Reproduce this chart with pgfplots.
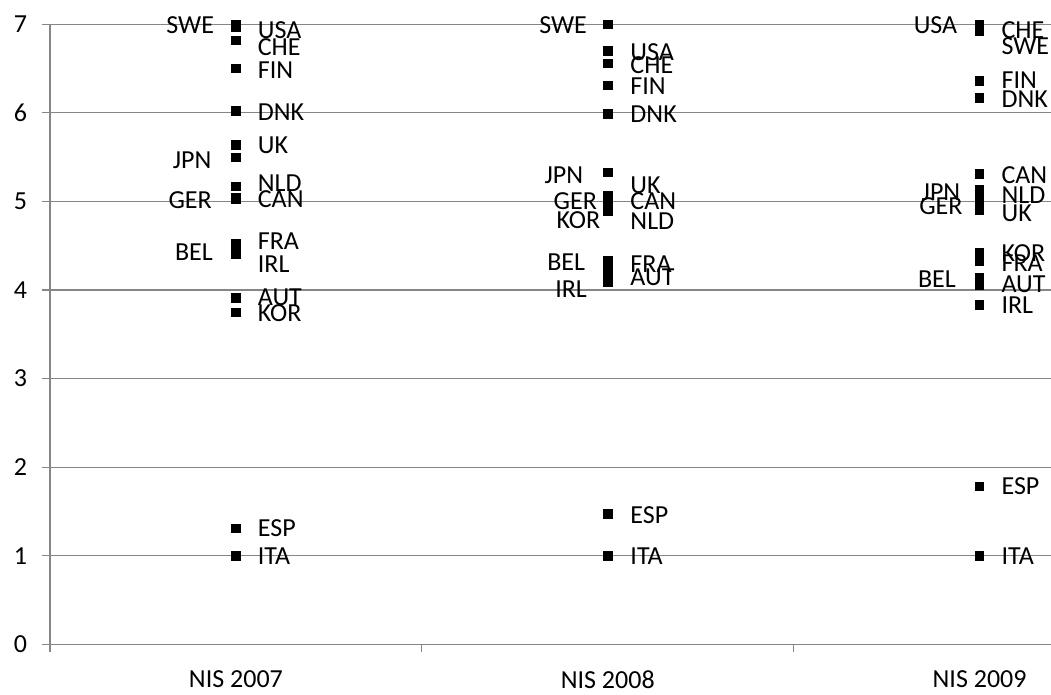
\documentclass[border=0pt]{standalone}
\usepackage{pgfplots}
\pgfplotsset{compat=1.18}
\usepackage{fontspec}
\setmainfont{Carlito}
\usetikzlibrary{calc}
\definecolor{gridgray}{RGB}{134,134,134}

\pgfplotstableread{
x y
0 7.00
0 6.97
0 6.82
0 6.50
0 6.02
0 5.64
0 5.50
0 5.17
0 5.04
0 5.03
0 4.52
0 4.46
0 4.40
0 3.91
0 3.75
0 1.31
0 1.00
}\nisA
\pgfplotstableread{
x y
1 7.00
1 6.70
1 6.56
1 6.31
1 5.99
1 5.33
1 5.07
1 5.01
1 4.97
1 4.92
1 4.89
1 4.33
1 4.25
1 4.17
1 4.09
1 1.47
1 1.00
}\nisB
\pgfplotstableread{
x y
2 7.00
2 6.96
2 6.92
2 6.36
2 6.17
2 5.31
2 5.13
2 5.06
2 4.98
2 4.90
2 4.42
2 4.32
2 4.14
2 4.05
2 3.83
2 1.78
2 1.00
}\nisC
\pgfplotstableread{
x y name
0.058 6.93 USA
0.058 6.74 CHE
0.058 6.48 FIN
0.058 6.01 DNK
0.058 5.63 UK
0.058 5.21 NLD
0.058 5.03 CAN
0.058 4.55 FRA
0.058 4.29 IRL
0.058 3.92 AUT
0.058 3.74 KOR
0.058 1.31 ESP
0.058 1.00 ITA
1.060 6.69 USA
1.060 6.54 CHE
1.060 6.30 FIN
1.060 5.98 DNK
1.060 5.18 UK
1.060 5.00 CAN
1.060 4.78 NLD
1.060 4.29 FRA
1.060 4.14 AUT
1.060 1.46 ESP
1.060 1.00 ITA
2.058 6.93 CHE
2.058 6.75 SWE
2.058 6.37 FIN
2.058 6.15 DNK
2.058 5.30 CAN
2.058 5.07 NLD
2.058 4.87 UK
2.058 4.42 KOR
2.058 4.30 FRA
2.058 4.06 AUT
2.058 3.83 IRL
2.058 1.78 ESP
2.058 0.99 ITA
}\rightlabels
\pgfplotstableread{
x y name
-0.058 6.99 SWE
-0.065 5.47 JPN
-0.064 5.01 GER
-0.061 4.43 BEL
0.945 6.99 SWE
0.935 5.30 JPN
0.972 5.00 GER
0.981 4.79 KOR
0.940 4.32 BEL
0.945 4.01 IRL
1.941 6.99 USA
1.949 5.10 JPN
1.955 4.95 GER
1.937 4.12 BEL
}\leftlabels

\begin{document}
\begin{tikzpicture}
\begin{axis}[
  scale only axis, width=500.5pt, height=310pt,
  xmin=-0.5, xmax=2.192, ymin=0, ymax=7,
  axis x line*=bottom, axis y line*=left,
  axis line style={-, draw=gridgray, line width=0.6pt},
  ytick={0,1,...,7}, ymajorgrids,
  grid style={gridgray, line width=0.6pt},
  tick align=outside, major tick length=4pt,
  tick style={gridgray, line width=0.6pt},
  xtick={-0.5,0.5,1.5}, xticklabels={},
  extra x ticks={0,1,2},
  extra x tick labels={NIS 2007,NIS 2008,NIS 2009},
  extra x tick style={major tick length=0pt, grid=none,
     xticklabel style={yshift=-9.5pt}},
  yticklabel style={xshift=-4pt},
  /pgf/number format/assume math mode=true,
  ticklabel style={font=\fontsize{13}{15}\selectfont, text=black},
  clip=false,
]
\coordinate (bl) at (rel axis cs:0,0);
\coordinate (tr) at (rel axis cs:1,1);
\addplot[only marks, mark=square*, mark size=2.1pt, black] table[x=x,y=y] {\nisA};
\addplot[only marks, mark=square*, mark size=2.1pt, black] table[x=x,y=y] {\nisB};
\addplot[only marks, mark=square*, mark size=2.1pt, black] table[x=x,y=y] {\nisC};
\addplot[draw=none, mark=none, nodes near coords, point meta=explicit symbolic,
  nodes near coords style={anchor=west, inner sep=0pt, font=\fontsize{13}{15}\selectfont, text=black}]
  table[x=x,y=y,meta=name] {\rightlabels};
\addplot[draw=none, mark=none, nodes near coords, point meta=explicit symbolic,
  nodes near coords style={anchor=east, inner sep=0pt, font=\fontsize{13}{15}\selectfont, text=black}]
  table[x=x,y=y,meta=name] {\leftlabels};
\end{axis}
\pgfresetboundingbox
\path[use as bounding box] ($(bl)+(-25pt,-25.35pt)$) rectangle ($(tr)+(0pt,12.15pt)$);
\end{tikzpicture}
\end{document}
